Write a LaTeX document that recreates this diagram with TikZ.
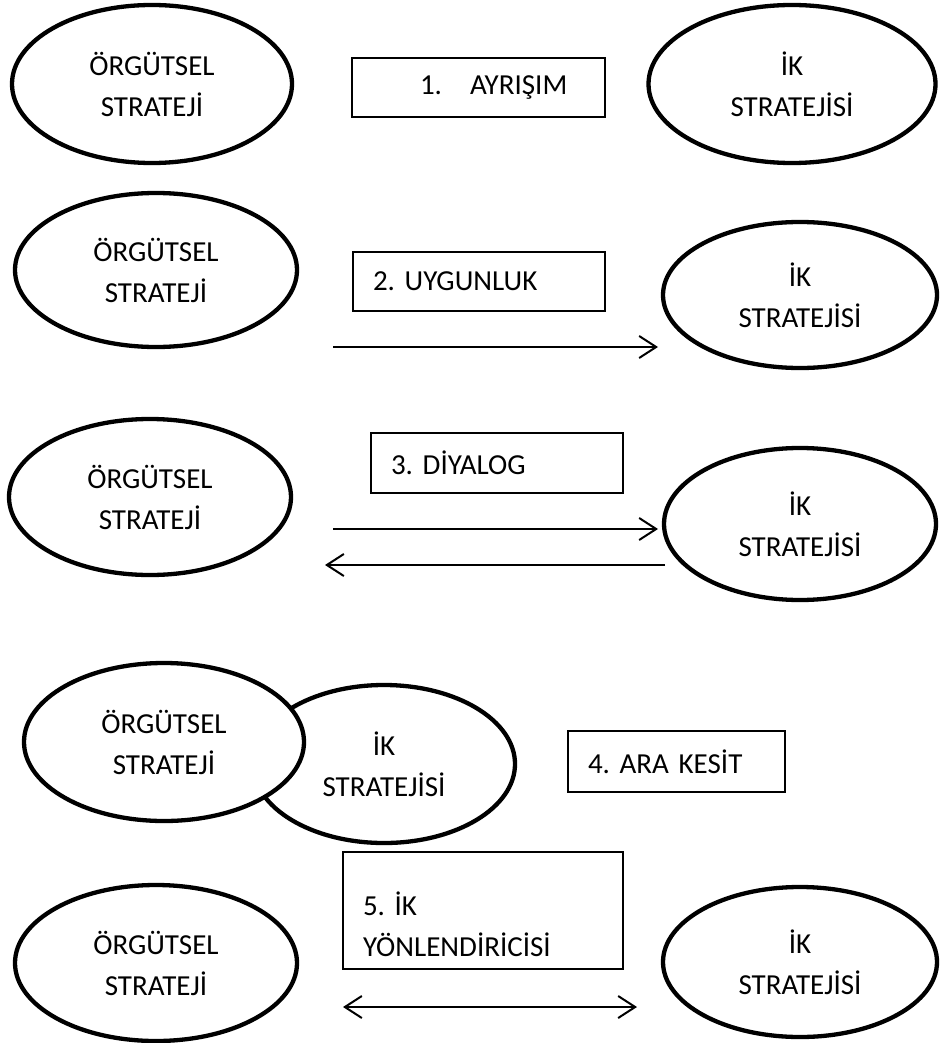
\documentclass[tikz,border=0pt]{standalone}
\usepackage{fontspec}
\setmainfont{Carlito}
\usepackage{tikz}
\usetikzlibrary{shapes.geometric}
\usetikzlibrary{arrows.meta}
\frenchspacing
\tikzstyle{strateji}=[ellipse,draw,line width=4.3pt,fill=white,inner sep=0pt,align=center]
\tikzstyle{kutu}=[rectangle,draw,line width=1.3pt,inner xsep=20pt,inner ysep=0pt,align=left]
\tikzstyle{ok}=[line width=2pt,-{Straight Barb[length=17pt,width=22pt,line width=2pt]}]
\tikzstyle{ciftok}=[line width=2pt,{Straight Barb[length=17pt,width=22pt,line width=2pt]}-{Straight Barb[length=17pt,width=22pt,line width=2pt]}]

\begin{document}
\begin{tikzpicture}[x=1pt,y=-1pt,font=\fontsize{29}{41}\selectfont]  % bes iliski turu
\useasboundingbox (0,0) rectangle (939,1043);

% 1. ayrisim
\node[strateji,minimum width=280pt,minimum height=158pt] (org1) at (152,84) {ÖRGÜTSEL\\STRATEJİ};
\node[strateji,minimum width=287pt,minimum height=158pt] (ik1) at (792,84) {İK\\STRATEJİSİ};
\node[kutu,text width=213pt,minimum height=59pt] (kutu1) at (478.5,87.5) {\hspace*{48pt}1.\hspace{28pt}AYRIŞIM};

% 2. uygunluk
\node[strateji,minimum width=282pt,minimum height=154pt] (org2) at (156,270) {ÖRGÜTSEL\\STRATEJİ};
\node[strateji,minimum width=274pt,minimum height=146pt] (ik2) at (800,295) {İK\\STRATEJİSİ};
\node[kutu,text width=212pt,minimum height=59pt] (kutu2) at (479,281.5) {2. UYGUNLUK};
\coordinate (ok2a) at (333,347);
\coordinate (ok2b) at (658,347);
\draw[ok] (ok2a) -- (ok2b);

% 3. diyalog
\node[strateji,minimum width=282pt,minimum height=156pt] (org3) at (150,497) {ÖRGÜTSEL\\STRATEJİ};
\node[strateji,minimum width=272pt,minimum height=152pt] (ik3) at (800,524) {İK\\STRATEJİSİ};
\node[kutu,text width=212pt,minimum height=60pt] (kutu3) at (497,463) {3. DİYALOG};
\coordinate (ok3a) at (333,529);
\coordinate (ok3b) at (658,529);
\coordinate (ok3c) at (665,565);
\coordinate (ok3d) at (325,565);
\draw[ok] (ok3a) -- (ok3b);
\draw[ok] (ok3c) -- (ok3d);

% 4. ara kesit
\node[strateji,minimum width=262pt,minimum height=158pt] (ik4) at (384,764) {İK\\STRATEJİSİ};
\node[strateji,minimum width=280pt,minimum height=158pt] (org4) at (164,742) {ÖRGÜTSEL\\STRATEJİ};
\node[kutu,text width=177pt,minimum height=61pt] (kutu4) at (676.5,761.5) {4. ARA KESİT};

% 5. ik yonlendiricisi
\node[strateji,minimum width=282pt,minimum height=156pt] (org5) at (156,963) {ÖRGÜTSEL\\STRATEJİ};
\node[strateji,minimum width=274pt,minimum height=150pt] (ik5) at (800,962) {İK\\STRATEJİSİ};
\node[kutu,text width=240pt,minimum height=117pt] (kutu5) at (483,910.5) {\rule{0pt}{52pt}5. İK\\YÖNLENDİRİCİSİ};
\coordinate (ok5a) at (343,1007);
\coordinate (ok5b) at (637,1007);
\draw[ciftok] (ok5a) -- (ok5b);
\end{tikzpicture}
\end{document}
